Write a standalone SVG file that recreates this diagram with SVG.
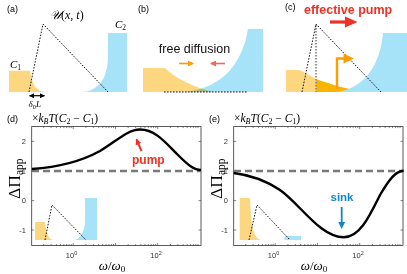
<svg xmlns="http://www.w3.org/2000/svg" width="407" height="274" viewBox="0 0 407 274">
<style>
.lbl{font-family:"Liberation Sans",Arial,sans-serif;font-size:9px;fill:#000}
.tk{font-family:"Liberation Sans",Arial,sans-serif;font-size:7.5px;fill:#333}
.m{font-family:"Liberation Serif","DejaVu Serif",serif;font-style:italic;fill:#000}
.up{font-style:normal}
.yel{fill:#fcd77f}
.blu{fill:#a6e3f8}
.dot{fill:none;stroke:#000;stroke-width:0.9;stroke-dasharray:1.6 1.4}
.curve{fill:none;stroke:#000;stroke-width:2.4}
.dash{fill:none;stroke:#7a7a7a;stroke-width:2.6;stroke-dasharray:7 4}
.box{fill:none;stroke:#333;stroke-width:0.8}
.tick{fill:none;stroke:#333;stroke-width:0.6}
</style>
<defs>
<marker id="hRed" markerWidth="6" markerHeight="6" refX="5" refY="3" orient="auto" markerUnits="userSpaceOnUse"><path d="M0,0 L6,3 L0,6 Z" fill="#ee3124"/></marker>
<marker id="hOr" markerWidth="6" markerHeight="6" refX="5" refY="3" orient="auto" markerUnits="userSpaceOnUse"><path d="M0,0 L6,3 L0,6 Z" fill="#ff9d00"/></marker>
<marker id="hSal" markerWidth="6" markerHeight="6" refX="5" refY="3" orient="auto" markerUnits="userSpaceOnUse"><path d="M0,0 L6,3 L0,6 Z" fill="#f6675a"/></marker>
<marker id="hBlk" markerWidth="5" markerHeight="5" refX="4.5" refY="2.5" orient="auto-start-reverse" markerUnits="userSpaceOnUse"><path d="M0,0 L5,2.5 L0,5 Z" fill="#000"/></marker>
<g id="frame">
<rect class="box" x="31.7" y="126.6" width="169.3" height="118.9"/>
<path class="tick" d="M31.7,141.4h2.5M31.7,171h2.5M31.7,200.6h2.5M31.7,230h2.5M201,141.4h-2.5M201,171h-2.5M201,200.6h-2.5M201,230h-2.5"/>
<path class="tick" d="M73.2,245.5v-2.5M115.45,245.5v-2.5M157.7,245.5v-2.5M73.2,126.6v2.5M115.45,126.6v2.5M157.7,126.6v2.5"/>
<path id="minor" class="tick" d="M43.67,245.5v-1.5M51.11,245.5v-1.5M56.39,245.5v-1.5M60.48,245.5v-1.5M63.82,245.5v-1.5M66.65,245.5v-1.5M69.1,245.5v-1.5M71.26,245.5v-1.5M85.92,245.5v-1.5M93.36,245.5v-1.5M98.64,245.5v-1.5M102.73,245.5v-1.5M106.07,245.5v-1.5M108.9,245.5v-1.5M111.35,245.5v-1.5M113.51,245.5v-1.5M128.17,245.5v-1.5M135.61,245.5v-1.5M140.89,245.5v-1.5M144.98,245.5v-1.5M148.32,245.5v-1.5M151.15,245.5v-1.5M153.6,245.5v-1.5M155.76,245.5v-1.5M170.42,245.5v-1.5M177.86,245.5v-1.5M183.14,245.5v-1.5M187.23,245.5v-1.5M190.57,245.5v-1.5M193.4,245.5v-1.5M195.85,245.5v-1.5M198.01,245.5v-1.5"/>
<use href="#minor" transform="translate(0,372.1) scale(1,-1)"/>
<text class="tk" x="26" y="144" text-anchor="end">2</text>
<text class="tk" x="26" y="173.6" text-anchor="end">1</text>
<text class="tk" x="26" y="203.2" text-anchor="end">0</text>
<text class="tk" x="26" y="232.6" text-anchor="end">-1</text>
<text class="tk" x="71.5" y="258" text-anchor="middle">10<tspan dy="-3.5" font-size="5.5">0</tspan></text>
<text class="tk" x="156" y="258" text-anchor="middle">10<tspan dy="-3.5" font-size="5.5">2</tspan></text>
<text class="m" x="112" y="269.5" font-size="13" text-anchor="middle">ω<tspan class="up">/</tspan>ω<tspan font-size="9" dy="2.5" class="up">0</tspan></text>
<text class="m" transform="translate(19.5,199) rotate(-90)" font-size="17.5"><tspan class="up">ΔΠ</tspan><tspan class="up" font-size="11.5" dy="3.5">app</tspan></text>
<text class="m" x="32" y="121.5" font-size="11.5"><tspan class="up">×</tspan>k<tspan font-size="8" dy="2.2">B</tspan><tspan dy="-2.2">T</tspan><tspan class="up">(</tspan>C<tspan font-size="8" dy="2.2" class="up">2</tspan><tspan dy="-2.2" class="up"> − </tspan>C<tspan font-size="8" dy="2.2" class="up">1</tspan><tspan dy="-2.2" class="up">)</tspan></text>
<line class="dash" x1="32" y1="171" x2="201" y2="171"/>
</g>
</defs>

<g id="panel-a">
<text class="lbl" x="7" y="12">(a)</text>
<path class="yel" d="M9,70.7 H30 C32,83 35,91 45,92 H9 Z"/>
<path class="blu" d="M127,33 H108 V58 C107,80 98,91 82,92 H127 Z"/>
<path class="dot" d="M29,92 L43,24 L108,92"/>
<text class="m" x="50" y="19" font-size="12">𝒰<tspan class="up">(</tspan>x<tspan class="up">, </tspan>t<tspan class="up">)</tspan></text>
<text class="m" x="10" y="68" font-size="11">C<tspan font-size="7.5" dy="2" class="up">1</tspan></text>
<text class="m" x="115" y="28" font-size="11">C<tspan font-size="7.5" dy="2" class="up">2</tspan></text>
<line x1="29.5" y1="95.7" x2="44.5" y2="95.7" stroke="#000" stroke-width="1.2" marker-start="url(#hBlk)" marker-end="url(#hBlk)"/>
<text class="m" x="28.5" y="107" font-size="9">δ<tspan font-size="6.5" dy="1.5" class="up">0</tspan><tspan dy="-1.5">L</tspan></text>
</g>

<g id="panel-b">
<text class="lbl" x="138" y="12">(b)</text>
<path class="yel" d="M143,68 H165 C175,78 195,88 214,92 H143 Z"/>
<path class="blu" style="mix-blend-mode:multiply" d="M263,29 H248 C243,60 225,88 185,92 H263 Z"/>
<line class="dot" x1="164" y1="92" x2="248" y2="92"/>
<text x="194.5" y="53" text-anchor="middle" font-family="Liberation Sans,Arial,sans-serif" font-size="12.5" fill="#111">free diffusion</text>
<line x1="179" y1="63.5" x2="193" y2="63.5" stroke="#ff9d00" stroke-width="1.6" marker-end="url(#hOr)"/>
<line x1="225" y1="63.5" x2="211" y2="63.5" stroke="#f6675a" stroke-width="1.6" marker-end="url(#hSal)"/>
</g>

<g id="panel-c">
<text class="lbl" x="285" y="10">(c)</text>
<text x="304" y="14" font-family="Liberation Sans,Arial,sans-serif" font-size="12.5" font-weight="bold" fill="#ee3124">effective pump</text>
<path d="M330,22 H346" stroke="#ee3124" stroke-width="3.2"/>
<path d="M345,16.5 L357.5,22 L345,27.5 Z" fill="#ee3124"/>
<path class="yel" d="M286,70 H299 C305,72 310,76 316,79 V92 H286 Z"/>
<path fill="#f7b500" d="M316,79 C330,84 348,90 368,92 H316 Z"/>
<path class="blu" d="M407,33 H383 C380,65 365,88 337,92 H407 Z"/>
<line x1="316" y1="25" x2="316" y2="92" stroke="#999" stroke-width="2.2" stroke-dasharray="1.6 1.4"/>
<path class="dot" d="M302,92 L316,24 L381,92"/>
<path d="M337,89 V58.5 H345" fill="none" stroke="#ff9d00" stroke-width="2.4"/>
<path d="M343.5,53.5 L354,58.5 L343.5,63.5 Z" fill="#ff9d00"/>
</g>

<g id="panel-d">
<text class="lbl" x="7" y="121.5">(d)</text>
<path class="yel" d="M35,222 H45 C46,232 48,239 53,240 H35 Z"/>
<path class="blu" d="M97,198 H85 V222 C84,234 80,239 74,240 H97 Z"/>
<path class="dot" d="M45,240 L52,205 L86,240"/>
<use href="#frame"/>
<path class="curve" d="M32,169 C60,167 80,162 100,151 C118,140 128,129.5 140,129.5 C155,129.5 165,142 178,155 C188,165 194,170 201,170"/>
<text x="132" y="164" font-family="Liberation Sans,Arial,sans-serif" font-size="12" font-weight="bold" fill="#ee3124">pump</text>
<line x1="141.5" y1="151" x2="136.5" y2="139.5" stroke="#ee3124" stroke-width="2" marker-end="url(#hRed)"/>
</g>

<g id="panel-e">
<text class="lbl" x="209" y="121.5">(e)</text>
<path class="yel" d="M239.7,198 H250 C251,225 253,238 261,240 H239.7 Z"/>
<path class="blu" d="M285,236 H301 V240 H284 Z"/>
<path class="dot" d="M249,240 L257,205 L290,240"/>
<use href="#frame" transform="translate(202,0)"/>
<path class="curve" d="M233.7,173 C250,175 265,180 280,190 C300,204 320,237 343.7,237.3 C360,237.5 370,215 380,195 C390,178 396,171 403.7,170.7"/>
<text x="342" y="201" text-anchor="middle" font-family="Liberation Sans,Arial,sans-serif" font-size="11.5" font-weight="bold" fill="#1884c7">sink</text>
<line x1="341.7" y1="207" x2="341.7" y2="225" stroke="#1884c7" stroke-width="1.8"/>
<path d="M338.2,222 L341.7,229 L345.2,222 Z" fill="#1884c7"/>
</g>
</svg>
